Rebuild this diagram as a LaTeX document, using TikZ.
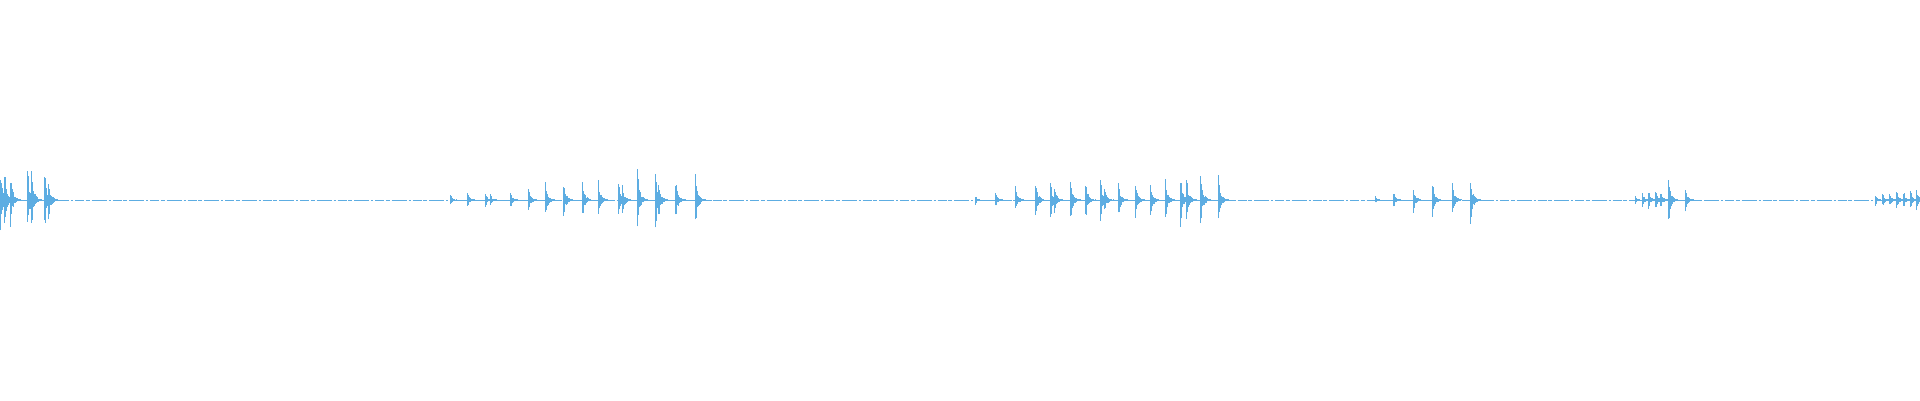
\documentclass[tikz,border=0pt]{standalone}
\definecolor{wave}{HTML}{5DADE2}
\tikzset{wv/.style={draw=wave,line width=0.8pt}}
\newcommand{\burst}[2]{%
  \foreach \i in {0,...,18}{%
    \pgfmathsetmacro{\a}{#2*exp(-\i/3)*(0.55+0.45*rnd)}%
    \pgfmathsetmacro{\b}{#2*exp(-\i/3)*(0.55+0.45*rnd)}%
    \draw[wv] (#1+\i*0.9,200+\a) -- (#1+\i*0.9,200-\b);
  }}
\begin{document}
\begin{tikzpicture}[x=1pt,y=-1pt]
\useasboundingbox (0,0) rectangle (1920,400);
\pgfmathsetseed{7}
\draw[wave,line width=1pt,dash pattern=on 9pt off 1.5pt on 4pt off 2pt on 15pt off 2pt on 2pt off 2pt] (0,200) -- (1920,200);
\foreach \x/\A in {0/32,4/34,10/30,27/36,31/32,44/34,48/22,
 450/6,467/10,485/8,490/6,510/10,528/14,545/20,563/22,582/20,598/20,618/20,622/15,637/32,655/30,658/20,675/24,695/27,
 975/5,995/9,1015/14,1035/21,1050/20,1054/14,1070/24,1085/22,1100/22,1104/15,1118/21,1135/19,1150/19,1165/21,1180/28,1186/24,1200/30,1218/27,
 1375/4,1393/9,1413/13,1432/19,1452/19,1470/26,
 1635/4,1642/8,1648/10,1655/12,1660/9,1668/27,1685/12,
 1875/6,1882/8,1889/8,1896/10,1903/10,1910/10,1916/12}{\burst{\x}{\A}}
\end{tikzpicture}
\end{document}
